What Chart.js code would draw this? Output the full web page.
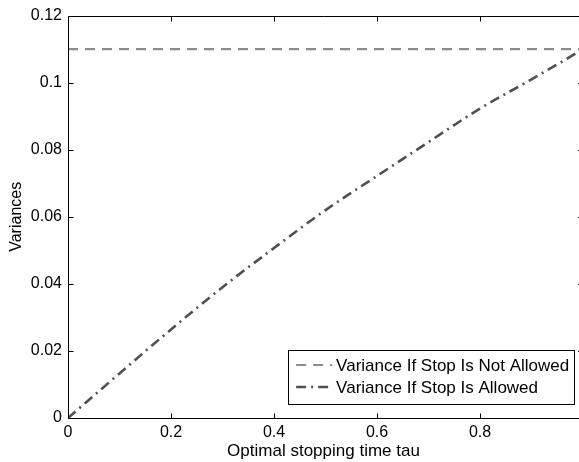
<!DOCTYPE html>
<html>
<head>
<meta charset="utf-8">
<title>Variances vs optimal stopping time</title>
<script src="https://cdn.jsdelivr.net/npm/chart.js@4.4.1/dist/chart.umd.min.js"></script>
<style>
    html, body { margin: 0; padding: 0; background: #ffffff; overflow: hidden; }
    #chart { display: block; }
</style>
</head>
<body>
<canvas id="chart" width="579" height="462"></canvas>
<script>
    'use strict';

    // Chart data
    var tauValues = [0, 0.1, 0.2, 0.3, 0.4, 0.5, 0.6, 0.7, 0.8, 0.9, 1.0];
    var varianceAllowed = [0, 0.0133, 0.0264, 0.0390, 0.0507, 0.0620, 0.0722, 0.0823, 0.0923, 0.1010, 0.1100];
    var varianceNotAllowed = [0.11, 0.11, 0.11, 0.11, 0.11, 0.11, 0.11, 0.11, 0.11, 0.11, 0.11];
    var xTicks = [0, 0.2, 0.4, 0.6, 0.8];
    var yTicks = [0, 0.02, 0.04, 0.06, 0.08, 0.1, 0.12];
    var seriesLabels = ['Variance If Stop Is Not Allowed', 'Variance If Stop Is Allowed'];

    // the source figure is cropped a few pixels before tau = 1
    var X_VISIBLE_MAX = 0.992;
    var X_AXIS_END = 1;

    var FONT = '"Liberation Sans", Arial, Helvetica, sans-serif';

    function toPoints(xs, ys) {
        return xs.map(function(x, i) { return { x: x, y: ys[i] }; });
    }

    /**
     * Axes lines with inward tick marks (matlab look).
     * The right axis (tau = 1) falls just past the canvas edge.
     */
    var boxPlugin = {
        id: 'boxPlugin',
        afterDatasetsDraw: function(chart) {
            var ctx = chart.ctx;
            var a = chart.chartArea;
            var xs = chart.scales.x;
            var ys = chart.scales.y;
            var len = 5;
            var l = Math.round(a.left) + 0.5;
            var t = Math.round(a.top) + 0.5;
            var b = Math.round(a.bottom) + 0.5;
            var r = xs.getPixelForValue(X_AXIS_END);

            ctx.save();
            ctx.strokeStyle = '#000000';
            ctx.lineWidth = 1;
            ctx.beginPath();
            xTicks.forEach(function(v) {
                var px = Math.round(xs.getPixelForValue(v)) + 0.5;
                ctx.moveTo(px, b);
                ctx.lineTo(px, b - len);
                ctx.moveTo(px, t);
                ctx.lineTo(px, t + len);
            });
            yTicks.forEach(function(v) {
                var py = Math.round(ys.getPixelForValue(v)) + 0.5;
                ctx.moveTo(l, py);
                ctx.lineTo(l + len, py);
                ctx.moveTo(r, py);
                ctx.lineTo(r - len, py);
            });
            // left, top and bottom axis lines
            ctx.moveTo(l, t);
            ctx.lineTo(l, b);
            ctx.moveTo(l, t);
            ctx.lineTo(r, t);
            ctx.moveTo(l, b);
            ctx.lineTo(r, b);
            ctx.stroke();
            ctx.restore();
        }
    };

    /**
     * Legend box in the lower right corner of the plot
     */
    var legendPlugin = {
        id: 'insideLegend',
        afterDraw: function(chart) {
            var ctx = chart.ctx;
            var a = chart.chartArea;
            var boxW = 286;
            var boxH = 54;
            var left = chart.scales.x.getPixelForValue(X_AXIS_END) - boxW - 9;
            var top = a.bottom - boxH - 14;

            ctx.save();
            ctx.fillStyle = '#ffffff';
            ctx.fillRect(left, top, boxW, boxH);
            ctx.strokeStyle = '#000000';
            ctx.lineWidth = 1;
            ctx.strokeRect(Math.round(left) + 0.5, Math.round(top) + 0.5, boxW, boxH);

            ctx.font = '17px ' + FONT;
            ctx.textBaseline = 'middle';
            ctx.textAlign = 'left';

            chart.data.datasets.forEach(function(ds, i) {
                var y = top + 15 + i * 22;
                ctx.strokeStyle = ds.borderColor;
                ctx.lineWidth = ds.borderWidth;
                ctx.setLineDash(ds.borderDash);
                ctx.beginPath();
                ctx.moveTo(left + 8, y);
                ctx.lineTo(left + 44, y);
                ctx.stroke();
                ctx.setLineDash([]);
                ctx.fillStyle = '#000000';
                ctx.fillText(ds.label, left + 48, y + 1);
            });
            ctx.restore();
        }
    };

    new Chart(document.getElementById('chart').getContext('2d'), {
        type: 'line',
        data: {
            datasets: [
                {
                    label: seriesLabels[0],
                    data: toPoints(tauValues, varianceNotAllowed),
                    borderColor: '#8c8c8c',
                    borderWidth: 2.2,
                    borderDash: [10, 7],
                    pointRadius: 0,
                    fill: false
                },
                {
                    label: seriesLabels[1],
                    data: toPoints(tauValues, varianceAllowed),
                    borderColor: '#505050',
                    borderWidth: 2.6,
                    borderDash: [10, 5, 2, 5],
                    pointRadius: 0,
                    cubicInterpolationMode: 'monotone',
                    fill: false
                }
            ]
        },
        options: {
            responsive: false,
            animation: false,
            layout: {
                padding: { top: 13, right: 0, left: 0, bottom: 0 }
            },
            plugins: {
                legend: { display: false },
                tooltip: { enabled: false }
            },
            scales: {
                x: {
                    type: 'linear',
                    min: 0,
                    max: X_VISIBLE_MAX,
                    afterBuildTicks: function(scale) {
                        scale.ticks = xTicks.map(function(v) { return { value: v }; });
                    },
                    afterFit: function(scale) {
                        scale.height = 44;
                    },
                    grid: { display: false, drawTicks: false },
                    border: { display: false },
                    ticks: {
                        padding: 5,
                        color: '#000000',
                        maxRotation: 0,
                        font: { size: 16, family: FONT },
                        callback: function(v) { return String(+v.toFixed(2)); }
                    },
                    title: {
                        display: true,
                        text: 'Optimal stopping time tau',
                        color: '#000000',
                        font: { size: 17, family: FONT },
                        padding: { top: 0, bottom: 0 }
                    }
                },
                y: {
                    type: 'linear',
                    min: 0,
                    max: 0.12,
                    afterBuildTicks: function(scale) {
                        scale.ticks = yTicks.map(function(v) { return { value: v }; });
                    },
                    afterFit: function(scale) {
                        scale.width = 68;
                    },
                    grid: { display: false, drawTicks: false },
                    border: { display: false },
                    ticks: {
                        padding: 6,
                        color: '#000000',
                        font: { size: 16, family: FONT },
                        callback: function(v) { return String(+v.toFixed(2)); }
                    },
                    title: {
                        display: true,
                        text: 'Variances',
                        color: '#000000',
                        font: { size: 16, family: FONT },
                        padding: { top: 7, bottom: 0 }
                    }
                }
            }
        },
        plugins: [boxPlugin, legendPlugin]
    });
</script>
</body>
</html>
